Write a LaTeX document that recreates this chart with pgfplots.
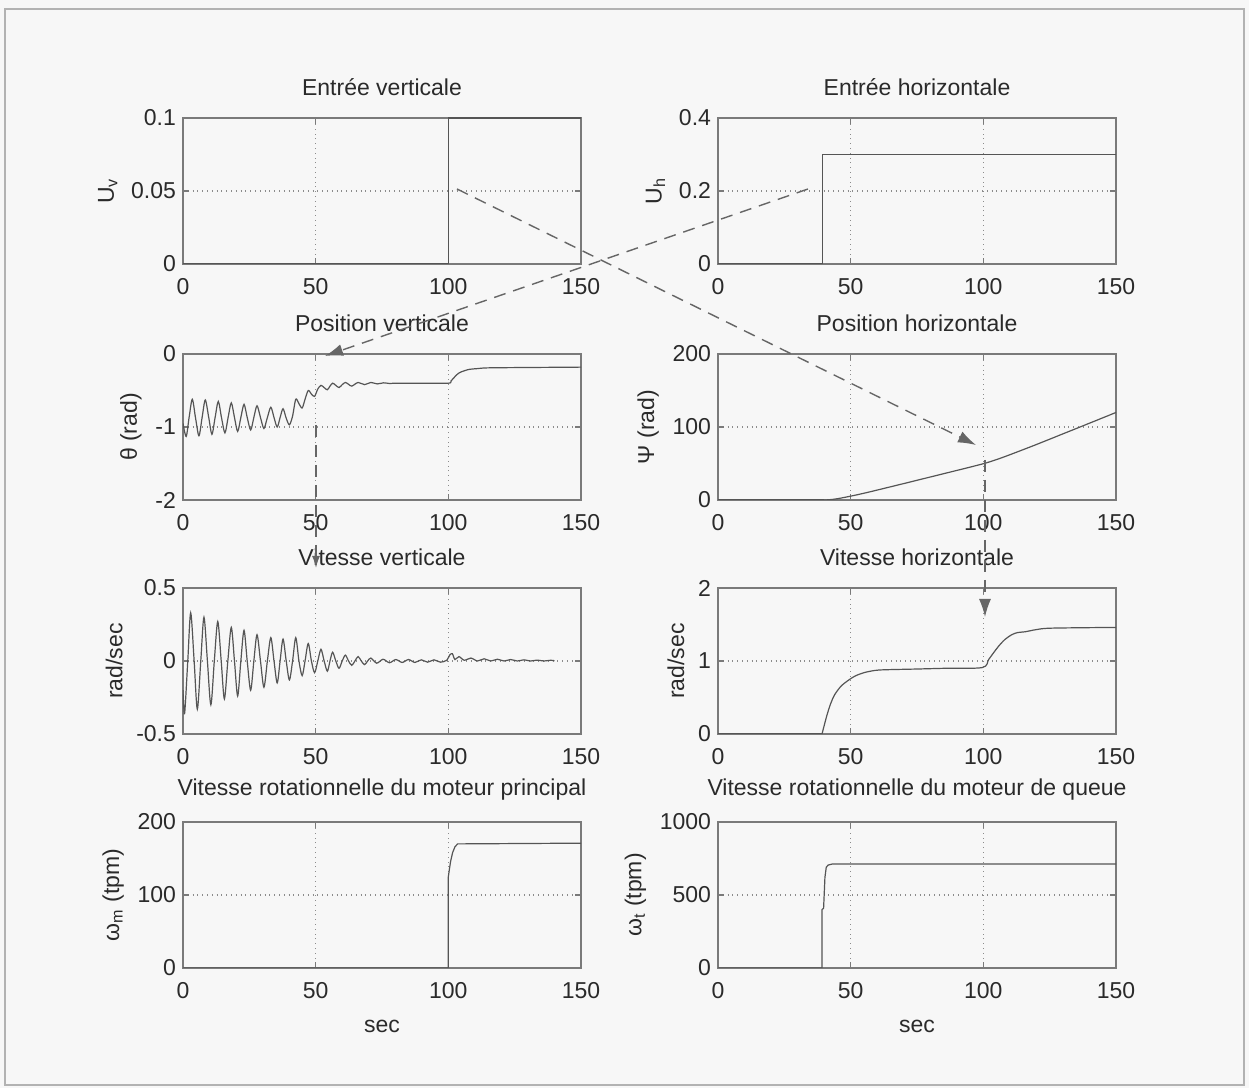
\documentclass[border=0pt]{standalone}
\usepackage{fontspec}
\setmainfont{Liberation Sans}
\usepackage{pgfplots}
\pgfplotsset{compat=1.18}
\usetikzlibrary{arrows.meta}
\definecolor{axc}{HTML}{7A7A7A}
\definecolor{grd}{HTML}{8C8C8C}
\definecolor{lnc}{HTML}{555555}
\definecolor{txc}{HTML}{2A2A2A}
\definecolor{bgc}{HTML}{F7F7F7}
\newcommand{\fs}{\fontsize{11.5}{13}\selectfont}
\pgfplotsset{ml/.style={
  scale only axis, width=199pt, height=73pt, anchor=south west,
  xmin=0, xmax=150, xtick={0,50,100,150},
  grid=major, grid style={dotted, grd, line width=0.6pt},
  axis line style={axc, line width=0.8pt},
  tick style={axc, line width=0.6pt},
  tick align=inside, major tick length=3pt,
  tick label style={font=\fs, text=txc},
  xticklabel style={yshift=-3.5pt},
  title style={font=\fs, text=txc, yshift=1.5pt},
  label style={font=\fs, text=txc},
  xlabel style={yshift=-4pt},
  /pgf/number format/fixed,
  /pgf/number format/precision=2,
  /pgf/number format/assume math mode=true,
  /pgf/number format/1000 sep={},
  scaled ticks=false,
  cycle list={{lnc, line width=0.6pt, mark=none}},
}}
\tikzset{pl/.style={lnc, line width=0.6pt, mark=none}}
\begin{document}
\begin{tikzpicture}
\fill[bgc] (0,0) rectangle (624.5pt,544pt);
% Row 1
\begin{axis}[ml, at={(91.5pt,412pt)}, ymin=0, ymax=0.1, ytick={0,0.05,0.1},
  title={Entrée verticale}, ylabel={U\textsubscript{v}}]
\addplot[pl] coordinates {(0,0) (100,0) (100,0.1) (150,0.1)};
\end{axis}
\begin{axis}[ml, at={(359pt,412pt)}, ymin=0, ymax=0.4, ytick={0,0.2,0.4},
  title={Entrée horizontale}, ylabel={U\textsubscript{h}}]
\addplot[pl] coordinates {(0,0) (39.5,0) (39.5,0.3) (150,0.3)};
\end{axis}
% Row 2
\begin{axis}[ml, at={(91.5pt,294pt)}, ymin=-2, ymax=0, ytick={-2,-1,0},
  title={Position verticale}, ylabel={θ (rad)}]
\addplot[pl, smooth] coordinates {(0,-0.95) (1.2,-1.13) (2.3,-0.87) (3.5,-0.62) (4.7,-0.87) (6,-1.12) (7.2,-0.87) (8.4,-0.63) (9.7,-0.87) (10.9,-1.10) (12.1,-0.87) (13.3,-0.65) (14.5,-0.87) (15.8,-1.08) (17,-0.87) (18.2,-0.67) (19.4,-0.87) (20.6,-1.06) (21.8,-0.87) (23,-0.69) (24.2,-0.87) (25.5,-1.04) (26.7,-0.87) (27.9,-0.71) (29.2,-0.87) (30.5,-1.02) (31.8,-0.87) (33.1,-0.73) (34.3,-0.87) (35.5,-1.0) (36.6,-0.87) (37.7,-0.75) (38.9,-0.88) (40.1,-0.97) (41.3,-0.85) (42.5,-0.62) (43.7,-0.68) (44.9,-0.74) (46,-0.62) (47.2,-0.50) (48.4,-0.55) (49.6,-0.58) (50.8,-0.48) (52,-0.43) (53.2,-0.46) (54.4,-0.49) (55.4,-0.44) (56.4,-0.40) (57.6,-0.43) (58.8,-0.46) (60,-0.42) (61.2,-0.39) (62.4,-0.415) (63.6,-0.44) (66,-0.39) (68.4,-0.42) (70.8,-0.39) (73.2,-0.41) (75.6,-0.395) (78,-0.405) (80,-0.4) (90,-0.4) (100,-0.4) (101,-0.37) (102.5,-0.31) (104,-0.26) (106,-0.23) (108,-0.21) (111,-0.2) (115,-0.19) (130,-0.185) (150,-0.18)};
\end{axis}
\begin{axis}[ml, at={(359pt,294pt)}, ymin=0, ymax=200, ytick={0,100,200},
  title={Position horizontale}, ylabel={Ψ (rad)}]
\addplot[pl] coordinates {(0,0) (40,0)};
\addplot[pl, smooth] coordinates {(40,0) (42,0.4) (45,1.75) (50,5.25) (55,9.25) (60,13.6) (70,22.5) (80,31.5) (90,40.5) (100,49.7) (105,55.4) (110,62) (120,76) (130,90.6) (140,105.2) (150,119.9)};
\end{axis}
% Row 3
\begin{axis}[ml, at={(91.5pt,177pt)}, ymin=-0.5, ymax=0.5, ytick={-0.5,0,0.5},
  title={Vitesse verticale}, ylabel={rad/sec}]
\addplot[pl, smooth] coordinates {(0,-0.2) (0.6,-0.36) (1.8,0) (2.9,0.33) (4.2,0) (5.4,-0.33) (6.7,0) (7.9,0.30) (9.2,0) (10.5,-0.30) (11.8,0) (13.1,0.27) (14.4,0) (15.6,-0.26) (16.9,0) (18.2,0.23) (19.4,0) (20.6,-0.24) (21.8,0) (23.0,0.21) (24.2,0) (25.5,-0.20) (26.7,0) (27.9,0.18) (29.2,0) (30.5,-0.18) (31.8,0) (33.1,0.16) (34.3,0) (35.5,-0.15) (36.6,0) (37.7,0.15) (38.9,0) (40.1,-0.13) (41.3,0) (42.5,0.16) (43.7,0) (44.9,-0.10) (46.0,0) (47.2,0.12) (48.4,0) (49.6,-0.08) (50.8,0) (52.0,0.08) (53.2,0) (54.4,-0.07) (55.4,0) (56.4,0.06) (57.6,0) (58.8,-0.05) (60,0) (61.2,0.04) (62.4,0) (63.6,-0.03) (64.8,0) (66,0.03) (67.2,0) (68.4,-0.025) (69.6,0) (70.8,0.02) (73,-0.015) (75.4,0.012) (77.8,-0.012) (80.2,0.01) (82.6,-0.01) (85,0.01) (87.4,-0.01) (89.8,0.008) (92.2,-0.008) (94.6,0.008) (97,-0.008) (99.4,0.005) (100.5,0.04) (101.5,0.05) (102.5,0.01) (104,0.03) (106,0.005) (108.5,0.02) (111,0.0) (113.5,0.015) (116,0) (118.5,0.012) (121,0) (123.5,0.01) (126,0) (128.5,0.008) (131,0) (133.5,0.006) (136,0) (138.5,0.005) (140,0.002)};
\end{axis}
\begin{axis}[ml, at={(359pt,177pt)}, ymin=0, ymax=2, ytick={0,1,2},
  title={Vitesse horizontale}, ylabel={rad/sec}]
\addplot[pl] coordinates {(0,0) (39.2,0)};
\addplot[pl, smooth] coordinates {(39.2,0) (41,0.25) (42.5,0.42) (44,0.54) (46.5,0.66) (49.7,0.75) (52,0.8) (55,0.84) (59,0.87) (63,0.88) (75,0.89) (85.5,0.9) (99.6,0.91) (102,1.02) (104,1.12) (105.7,1.2) (108,1.29) (110.7,1.36) (113,1.39) (115.7,1.4) (120,1.43) (125.8,1.45) (150,1.46)};
\end{axis}
% Row 4
\begin{axis}[ml, at={(91.5pt,60pt)}, ymin=0, ymax=200, ytick={0,100,200},
  title={Vitesse rotationnelle du moteur principal}, ylabel={ω\textsubscript{m} (tpm)}, xlabel={sec}]
\addplot[pl] coordinates {(0,0) (100,0) (100,125) (100.8,145) (101.6,158) (102.5,166) (103.5,170) (150,171)};
\end{axis}
\begin{axis}[ml, at={(359pt,60pt)}, ymin=0, ymax=1000, ytick={0,500,1000},
  title={Vitesse rotationnelle du moteur de queue}, ylabel={ω\textsubscript{t} (tpm)}, xlabel={sec}]
\addplot[pl] coordinates {(0,0) (39.2,0) (39.2,400) (39.8,410) (40.3,620) (40.8,690) (41.5,705) (43,712) (150,712)};
\end{axis}
% arrows and frame
\begin{scope}[x=0.5pt, y=-0.5pt, shift={(0pt,544pt)}]
\tikzset{arr/.style={dash pattern=on 6pt off 4pt, black!60, line width=0.7pt, -{Latex[length=9pt,width=6pt]}}}
\draw[arr] (457,189) -- (976,445);
\draw[arr] (808,189) -- (325,356);
\draw[arr, -{Latex[length=6pt,width=4pt]}] (316,425) -- (316,568);
\draw[arr] (985,460) -- (985,617);
\draw[gray!60, line width=0.6pt] (5,9) rectangle (1244,1085);
\end{scope}
\end{tikzpicture}
\end{document}
